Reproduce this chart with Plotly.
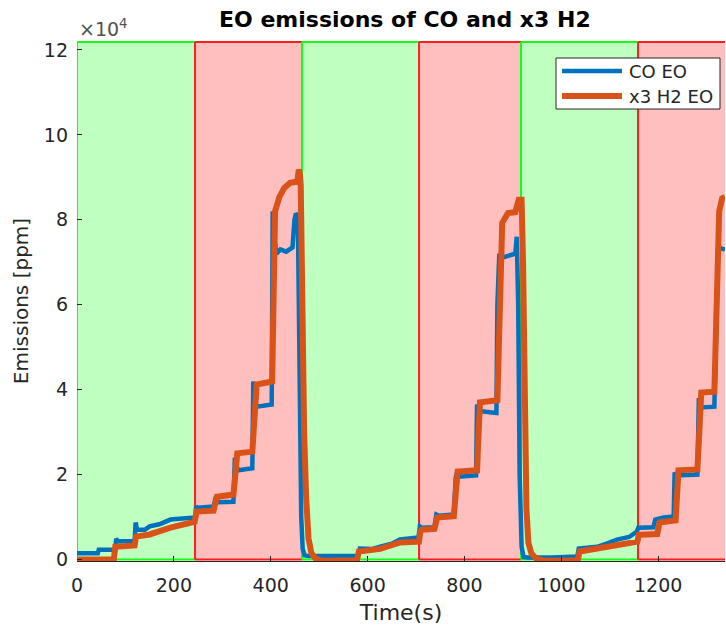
import plotly.graph_objects as go

# ---- data ----
t_co = [0, 43, 45, 79, 81, 84, 119, 121, 124, 140, 150, 170, 193, 244, 246, 249, 282, 287, 292, 323,
        326, 329, 333, 362, 364, 368, 372, 402, 404, 407, 412, 420, 432, 445, 449, 452, 456, 458,
        460, 463, 466, 470, 478, 500, 540, 580, 584, 610, 626, 650, 667, 705, 708, 712, 738, 742,
        748, 778, 782, 786, 790, 824, 826, 829, 866, 868, 872, 876, 890, 905, 908, 911, 914, 918,
        922, 930, 980, 1033, 1036, 1074, 1095, 1115, 1140, 1156, 1159, 1190, 1194, 1211, 1232,
        1234, 1238, 1281, 1284, 1288, 1316, 1320, 1324, 1338]
co_eo = [1500, 1500, 2300, 2300, 4900, 4300, 4300, 8700, 7000, 7000, 7800, 8300, 9400, 9900, 12500,
         12200, 12500, 14800, 13500, 13600, 24000, 22000, 21000, 21500, 41900, 37000, 36000, 36500,
         82000, 76000, 72000, 73000, 72500, 73500, 80000, 81500, 81000, 60000, 30000, 10000, 2500,
         1000, 800, 800, 900, 900, 2600, 2500, 3000, 3700, 4700, 5200, 7800, 7500, 7600, 10600,
         10300, 10600, 19300, 21000, 19500, 19800, 36500, 35000, 34500, 60000, 72000, 71000, 71500,
         72000, 76000, 60000, 20000, 3000, 600, 500, 500, 700, 2600, 3000, 3800, 4700, 5300, 6600,
         7500, 7600, 9400, 9900, 10100, 20500, 19800, 20000, 38000, 35800, 36000, 60000, 73500,
         73000]

t_h2 = [0, 76, 79, 119, 122, 150, 193, 243, 247, 282, 289, 323, 327, 331, 362, 367, 371, 403, 406,
        409, 418, 428, 440, 455, 458, 460, 462, 465, 469, 473, 478, 484, 492, 505, 540, 578, 582,
        626, 667, 706, 709, 712, 738, 744, 778, 782, 786, 826, 829, 832, 868, 872, 878, 890, 905,
        912, 918, 921, 924, 928, 932, 938, 948, 965, 1000, 1034, 1038, 1074, 1115, 1157, 1160,
        1198, 1203, 1236, 1242, 1281, 1285, 1289, 1316, 1320, 1326, 1332, 1338]
h2_eo_x3 = [0, 0, 3000, 3300, 5400, 5900, 7500, 8900, 11300, 11500, 14800, 15300, 20000, 25000,
            25400, 33000, 41200, 41900, 60000, 82000, 85400, 87500, 88700, 89000, 91800, 91000,
            88000, 60000, 30000, 15000, 5000, 1500, 300, -300, -300, -200, 1900, 2500, 4000, 4200,
            6600, 7000, 7200, 9900, 10200, 18000, 20700, 21000, 30000, 37000, 37500, 60000, 79300,
            81600, 81800, 84700, 84700, 70000, 40000, 12000, 4000, 1500, 200, -300, -300, -200,
            1900, 2500, 3500, 4200, 5800, 6000, 8700, 9200, 21000, 21200, 30000, 39300, 39500,
            60000, 82000, 85000, 85400]

series_names = ["CO EO", "x3 H2 EO"]
series_colors = ["#0072BD", "#D95319"]
series_widths = [4.5, 6]

band_edges = [0, 243.6, 464.6, 706.2, 916.8, 1158.4, 1338]
band_states = ["green", "red", "green", "red", "green", "red"]

y_ticks = [0, 20000, 40000, 60000, 80000, 100000, 120000]
y_tick_text = ["0", "2", "4", "6", "8", "10", "12"]
x_ticks = [0, 200, 400, 600, 800, 1000, 1200]

X_MAX = 1338
Y_MIN, Y_MAX = -353, 122100
BAND_TOP = 121865

band_style = {
    "green": dict(fill="rgb(191,255,191)", edge="rgb(20,255,20)"),
    "red": dict(fill="rgb(255,191,191)", edge="rgb(255,30,30)"),
}
EDGE_W = 2

fig = go.Figure()
fig.add_trace(go.Scatter(x=t_co, y=co_eo, mode="lines", name=series_names[0], showlegend=False,
                         line=dict(color=series_colors[0], width=series_widths[0])))
fig.add_trace(go.Scatter(x=t_h2, y=h2_eo_x3, mode="lines", name=series_names[1], showlegend=False,
                         line=dict(color=series_colors[1], width=series_widths[1])))

shapes = []
# band fills
for i, st in enumerate(band_states):
    s = band_style[st]
    shapes.append(dict(type="rect", xref="x", yref="y", layer="below",
                       x0=band_edges[i], x1=band_edges[i + 1], y0=0, y1=BAND_TOP,
                       fillcolor=s["fill"], line=dict(width=0)))
# band outlines: top/bottom in band colour, boundary takes colour of band to its right
for i, st in enumerate(band_states):
    s = band_style[st]
    for yv in (0, BAND_TOP):
        shapes.append(dict(type="line", xref="x", yref="y", layer="below",
                           x0=band_edges[i], x1=band_edges[i + 1], y0=yv, y1=yv,
                           line=dict(color=s["edge"], width=EDGE_W)))
    shapes.append(dict(type="line", xref="x", yref="y", layer="below",
                       x0=band_edges[i], x1=band_edges[i], y0=0, y1=BAND_TOP,
                       line=dict(color=s["edge"], width=EDGE_W)))

axis_color = "#262626"

# legend box (drawn manually to match the MATLAB legend layout)
LEG_X0, LEG_X1, LEG_Y0, LEG_Y1 = 0.7392, 0.9923, 0.8692, 0.9673
LEG_LINE_X0, LEG_LINE_X1, LEG_TEXT_X = 0.7485, 0.841, 0.8488
LEG_ROWS = [0.9423, 0.8942]
shapes.append(dict(type="rect", xref="paper", yref="paper", layer="above",
                   x0=LEG_X0, x1=LEG_X1, y0=LEG_Y0, y1=LEG_Y1,
                   fillcolor="white", line=dict(color=axis_color, width=1)))
annotations = []
for name, col, w, yr in zip(series_names, series_colors, series_widths, LEG_ROWS):
    shapes.append(dict(type="line", xref="paper", yref="paper", layer="above",
                       x0=LEG_LINE_X0, x1=LEG_LINE_X1, y0=yr, y1=yr,
                       line=dict(color=col, width=w)))
    annotations.append(dict(text=name, xref="paper", yref="paper", x=LEG_TEXT_X, y=yr,
                            xanchor="left", yanchor="middle", showarrow=False,
                            font=dict(size=18, color=axis_color)))
annotations.append(dict(text="×10<sup>4</sup>", xref="paper", yref="paper", x=0.0, y=0.998,
                        xanchor="left", yanchor="bottom", showarrow=False,
                        font=dict(size=19, color="#505050")))

fig.update_layout(
    width=726, height=626,
    margin=dict(l=77, r=1, t=41, b=65),
    paper_bgcolor="white", plot_bgcolor="white",
    font=dict(family="DejaVu Sans", color=axis_color),
    shapes=shapes,
    showlegend=False,
    title=dict(text="<b>EO emissions of CO and x3 H2</b>", x=0.506, xref="paper",
               y=1 - 19 / 626, yref="container", yanchor="middle", xanchor="center",
               font=dict(size=22, color="black")),
    xaxis=dict(range=[0, X_MAX], tickvals=x_ticks, ticks="inside", ticklen=5,
               tickcolor=axis_color, showline=True, linecolor=axis_color, linewidth=1,
               showgrid=False, zeroline=False, tickfont=dict(size=19), ticklabelstandoff=7,
               title=dict(text="Time(s)", font=dict(size=22), standoff=9)),
    yaxis=dict(range=[Y_MIN, Y_MAX], tickvals=y_ticks, ticktext=y_tick_text, ticks="inside",
               ticklen=5, tickcolor=axis_color, showline=False, showgrid=False, zeroline=False,
               tickfont=dict(size=19), ticklabelstandoff=8,
               title=dict(text="Emissions [ppm]", font=dict(size=20), standoff=9)),
    annotations=annotations,
)

fig.write_html("out.html", config={"displayModeBar": False},
               post_script="document.body.style.margin='0';")
